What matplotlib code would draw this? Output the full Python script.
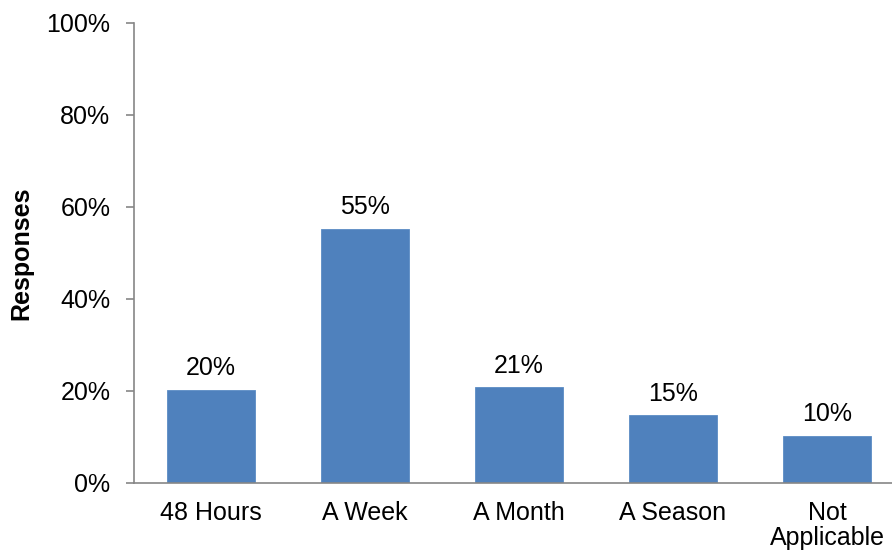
import matplotlib
matplotlib.use("Agg")
import matplotlib.pyplot as plt

categories = ["48 Hours", "A Week", "A Month", "A Season", "Not\nApplicable"]
values = [20.3, 55.2, 20.8, 14.7, 10.2]
labels = ["20%", "55%", "21%", "15%", "10%"]
yticks = [0, 20, 40, 60, 80, 100]
ytick_labels = ["0%", "20%", "40%", "60%", "80%", "100%"]

plt.rcParams['font.family'] = ['Liberation Sans', 'DejaVu Sans']
fig = plt.figure(figsize=(8.92, 5.52), dpi=100)
W, H = 892, 552
left, right = 134, 904
bottom, top = 483, 23
ax = fig.add_axes([left / W, 1 - bottom / H, (right - left) / W, (bottom - top) / H])

color = "#4F81BD"
x = list(range(len(categories)))
bars = ax.bar(x, values, width=0.573, color=color, edgecolor="#5b8cc4", linewidth=0.6, zorder=2)
for xi, v, lab in zip(x, values, labels):
    ax.annotate(lab, (xi, v), xytext=(0, 7), textcoords="offset points",
                ha="center", va="bottom", fontsize=18)

ax.set_xlim(-0.5, len(categories) - 0.5)
ax.set_ylim(0, 100)
ax.set_yticks(yticks)
ax.set_yticklabels(ytick_labels, fontsize=18)
ax.set_xticks(x)
ax.set_xticklabels(categories, fontsize=18, linespacing=1.05)
ax.tick_params(axis="x", length=0, pad=13)
ax.tick_params(axis="y", length=6, width=1.2, color="#868686", pad=11, direction="out")
for s in ["top", "right"]:
    ax.spines[s].set_visible(False)
for s in ["left", "bottom"]:
    ax.spines[s].set_color("#868686")
    ax.spines[s].set_linewidth(1.2)

fig.text(21 / W, 1 - 253 / H, "Responses", rotation=90, ha="center", va="center",
         fontsize=18, fontweight="bold")

fig.savefig("out.png", dpi=100)
